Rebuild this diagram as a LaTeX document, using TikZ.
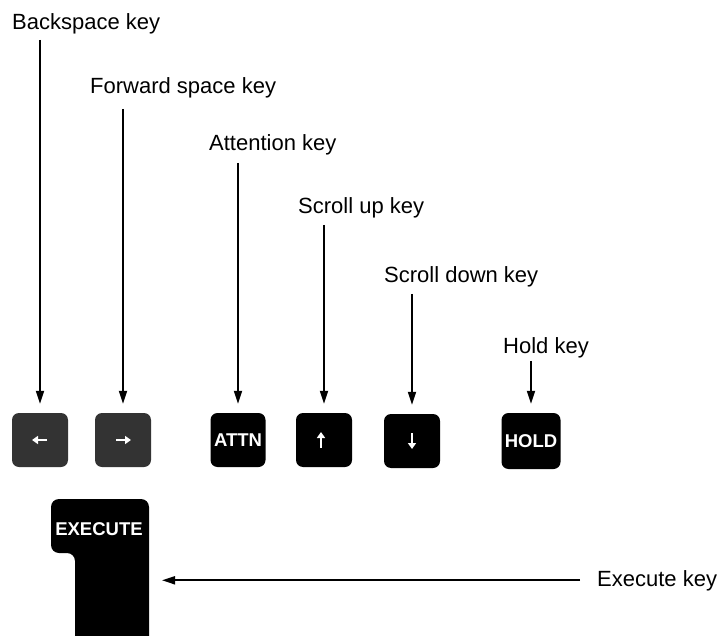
\documentclass[tikz,border=0pt]{standalone}
\usepackage{fontspec}
\setmainfont{Liberation Sans}
\usetikzlibrary{arrows.meta}
\begin{document}
\begin{tikzpicture}[x=1pt,y=-1pt,
  lbl/.style={anchor=base west, inner sep=0pt, font=\fontsize{22}{26}\selectfont},
  keyfont/.style={font=\bfseries\fontsize{18.5}{22}\selectfont},
  keycap/.style={fill=black, rounded corners=7pt, minimum width=56pt,
    minimum height=54pt, inner sep=0pt, text=white, keyfont},
  greykey/.style={keycap, fill=black!80},
  arr/.style={line width=1.8pt, -{Triangle[length=13pt,width=8pt]}, shorten >=9pt},
  glyph/.style={white, line width=2.4pt, -{Triangle[length=6pt,width=8pt]}}]

\useasboundingbox (0,0) rectangle (725,636);

% labels
\node[lbl] (bsl)  at (12,30)  {Backspace key};
\node[lbl] (fwl)  at (90,94)  {Forward space key};
\node[lbl] (atl)  at (209,151) {Attention key};
\node[lbl] (upl)  at (298,214) {Scroll up key};
\node[lbl] (dnl)  at (384,283) {Scroll down key};
\node[lbl] (hdl)  at (503,353) {Hold key};
\node[lbl] (exl)  at (597,586) {Execute key};

% key row
\node[greykey] (bs)   at (40,440)  {};
\node[greykey] (fw)   at (123,440) {};
\node[keycap, minimum width=55pt]  (attn) at (238,440) {ATTN};
\node[keycap]  (up)   at (324,440) {};
\node[keycap]  (dn)   at (412,441) {};
\node[keycap, minimum width=59pt, minimum height=56pt] (hold) at (531,441) {HOLD};

% arrow symbols on the keys
\draw[glyph] ([xshift=7pt]bs.center) -- ([xshift=-8pt]bs.center);
\draw[glyph] ([xshift=-7pt]fw.center) -- ([xshift=8pt]fw.center);
\draw[glyph] ([xshift=-3pt,yshift=-8pt]up.center) -- ([xshift=-3pt,yshift=8pt]up.center);
\draw[glyph] ([yshift=8pt]dn.center) -- ([yshift=-8pt]dn.center);

% execute key (L-shaped)
\fill[black] (75,636) [rounded corners=8pt] -- (75,553) -- (51,553) -- (51,499)
  -- (149,499) -- (149,570) [sharp corners] -- (149,636) -- cycle;
\node[inner sep=0pt, anchor=base, text=white, keyfont] (exe) at (99,535) {EXECUTE};
\coordinate (ekey) at (149,578);

% pointers
\draw[arr, shorten <=5pt]  (bsl.south -| bs.north) -- (bs.north);
\draw[arr, shorten <=10pt] (fwl.south -| fw.north) -- (fw.north);
\draw[arr, shorten <=7pt]  (atl.south -| attn.north) -- (attn.north);
\draw[arr, shorten <=6pt]  (upl.south -| up.north) -- (up.north);
\draw[arr, shorten <=6pt]  (dnl.south -| dn.north) -- (dn.north);
\draw[arr, shorten <=3pt]  (hdl.south -| hold.north) -- (hold.north);
\draw[arr, shorten <=17pt, shorten >=13pt] (exl.west) -- (exl.west -| ekey);
\end{tikzpicture}
\end{document}
